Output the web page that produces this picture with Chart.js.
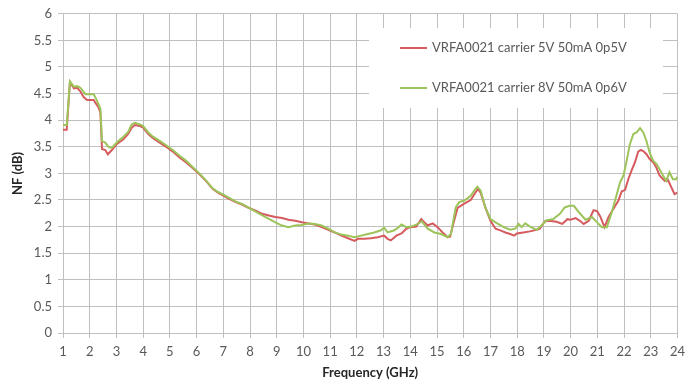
<!DOCTYPE html>
<html>
<head>
<meta charset="utf-8">
<script src="https://cdn.jsdelivr.net/npm/chart.js@4.4.0/dist/chart.umd.min.js"></script>
<style>
  body { margin: 0; background: #ffffff; }
  #chartscreen { display: block; }
</style>
</head>
<body>
<canvas id="chartscreen" width="691" height="385"></canvas>
<script>
// series names
const seriesNames = ["VRFA0021 carrier 5V 50mA 0p5V", "VRFA0021 carrier 8V 50mA 0p6V"];

// red series: frequency (GHz) and noise figure (dB)
const freq5V = [1.0, 1.14, 1.26, 1.41, 1.53, 1.65, 1.78, 1.9, 2.15, 2.21, 2.33, 2.4, 2.46, 2.58, 2.68, 2.83,
  3.01, 3.26, 3.44, 3.57, 3.69, 3.88, 4.0, 4.19, 4.37, 4.62, 4.86, 5.11, 5.36, 5.6, 5.85, 6.1, 6.35, 6.6, 6.8,
  7.0, 7.22, 7.47, 7.72, 7.96, 8.21, 8.46, 8.7, 8.95, 9.2, 9.44, 9.69, 9.94, 10.19, 10.43, 10.68, 10.93,
  11.17, 11.42, 11.67, 11.91, 12.04, 12.28, 12.53, 12.78, 13.02, 13.15, 13.27, 13.48, 13.67, 13.85, 14.0,
  14.22, 14.41, 14.53, 14.65, 14.84, 15.02, 15.21, 15.4, 15.49, 15.64, 15.77, 16.02, 16.26, 16.44, 16.53,
  16.63, 16.81, 17.0, 17.19, 17.37, 17.56, 17.74, 17.89, 17.99, 18.23, 18.48, 18.73, 18.85, 19.04, 19.22,
  19.47, 19.69, 19.88, 20.0, 20.19, 20.37, 20.49, 20.68, 20.86, 20.99, 21.11, 21.27, 21.42, 21.6, 21.79,
  21.91, 22.04, 22.16, 22.28, 22.41, 22.53, 22.63, 22.72, 22.84, 22.96, 23.09, 23.21, 23.33, 23.52, 23.64,
  23.77, 23.89, 24.0];
const nf5V = [3.82, 3.82, 4.72, 4.6, 4.61, 4.54, 4.43, 4.38, 4.38, 4.33, 4.24, 4.14, 3.46, 3.44, 3.36, 3.44,
  3.55, 3.64, 3.74, 3.86, 3.91, 3.89, 3.86, 3.74, 3.66, 3.58, 3.5, 3.41, 3.3, 3.21, 3.1, 2.99, 2.86, 2.71, 2.64,
  2.58, 2.52, 2.46, 2.41, 2.35, 2.3, 2.24, 2.21, 2.18, 2.16, 2.13, 2.11, 2.08, 2.06, 2.04, 1.99, 1.94,
  1.89, 1.83, 1.78, 1.73, 1.77, 1.77, 1.78, 1.8, 1.83, 1.77, 1.74, 1.83, 1.87, 1.96, 1.99,
  2.0, 2.14, 2.08, 2.02, 2.06, 1.99, 1.89, 1.8, 1.81, 2.11, 2.35, 2.43, 2.5, 2.64, 2.71,
  2.64, 2.36, 2.11, 1.96, 1.93, 1.89, 1.86, 1.83, 1.87, 1.89, 1.91, 1.94, 1.96, 2.1, 2.11,
  2.09, 2.05, 2.14, 2.13, 2.16, 2.1, 2.05, 2.11, 2.31, 2.29, 2.19, 1.99, 2.18, 2.33, 2.49,
  2.66, 2.69, 2.89, 3.05, 3.21, 3.41, 3.44, 3.42, 3.36, 3.27, 3.21, 3.11, 2.96, 2.86, 2.88,
  2.74, 2.61, 2.64];

// green series: frequency (GHz) and noise figure (dB)
const freq8V = [1.0, 1.14, 1.26, 1.41, 1.53, 1.65, 1.84, 2.15, 2.28, 2.4, 2.46, 2.58, 2.7, 2.83,
  3.01, 3.26, 3.44, 3.57, 3.69, 3.88, 4.0, 4.19, 4.37, 4.62, 4.86, 5.11, 5.36, 5.6, 5.85, 6.1, 6.35, 6.6, 6.8,
  7.0, 7.22, 7.47, 7.72, 7.96, 8.21, 8.58, 8.95, 9.2, 9.44, 9.69, 9.94, 10.19, 10.43, 10.68, 10.93,
  11.17, 11.42, 11.67, 11.91, 12.16, 12.41, 12.65, 12.9, 13.02, 13.15, 13.4, 13.54, 13.67, 13.85, 14.04,
  14.28, 14.43, 14.65, 14.9, 15.15, 15.4, 15.52, 15.7, 15.83, 16.02, 16.26, 16.44, 16.51, 16.63, 16.81,
  17.0, 17.25, 17.5, 17.74, 17.93, 18.05, 18.17, 18.3, 18.48, 18.73, 18.91, 19.1, 19.35, 19.6, 19.78,
  19.96, 20.12, 20.31, 20.56, 20.8, 20.99, 21.17, 21.36, 21.54, 21.73, 21.85, 21.98, 22.1, 22.22, 22.35,
  22.47, 22.6, 22.72, 22.84, 22.96, 23.09, 23.21, 23.33, 23.46, 23.58, 23.7, 23.83, 23.95, 24.0];
const nf8V = [3.91, 3.91, 4.73, 4.63, 4.64, 4.61, 4.49, 4.49, 4.36, 4.21, 3.61, 3.58, 3.5, 3.48,
  3.58, 3.69, 3.78, 3.92, 3.95, 3.92, 3.89, 3.77, 3.69, 3.61, 3.53, 3.44, 3.33, 3.24, 3.12, 3.0, 2.87, 2.72, 2.65,
  2.6, 2.54, 2.47, 2.42, 2.35, 2.28, 2.18, 2.08, 2.02, 1.99, 2.02, 2.03, 2.06, 2.05, 2.02, 1.96,
  1.89, 1.85, 1.83, 1.8, 1.83, 1.86, 1.89, 1.93, 1.98, 1.89, 1.93, 1.98, 2.04, 1.99, 2.0,
  2.05, 2.1, 1.96, 1.89, 1.86, 1.8, 1.86, 2.36, 2.46, 2.49, 2.58, 2.71, 2.75, 2.68, 2.36,
  2.14, 2.06, 1.99, 1.94, 1.96, 2.05, 1.99, 2.06, 2.0, 1.94, 2.02, 2.12, 2.14, 2.24, 2.36,
  2.39, 2.39, 2.27, 2.13, 2.18, 2.08, 1.99, 1.99, 2.27, 2.61, 2.83, 2.96, 3.24, 3.55, 3.74,
  3.77, 3.85, 3.77, 3.61, 3.39, 3.24, 3.18, 3.08, 2.96, 2.86, 3.02, 2.89, 2.89, 2.94];

const redColor = "#d65b5e";
const greenColor = "#9cc45a";
const gridColor = "#bfbfbf";
const textColor = "#595959";
const fontName = "Lato, 'Open Sans', sans-serif";

// pair up x and y arrays for the linear x scale
function toPoints(xs, ys) {
  var pts = [];
  for (var i = 0; i < xs.length; i++) {
    pts.push({x: xs[i], y: ys[i]});
  }
  return pts;
}

// legend box drawn inside the plot, like the excel chart
const innerLegend = {
  id: "innerLegend",
  afterDraw(chart) {
    const ctx = chart.ctx;
    ctx.save();
    ctx.fillStyle = "#ffffff";
    ctx.fillRect(369, 28, 294, 80);
    const rows = [48, 88];
    ctx.font = "13px " + fontName;
    ctx.textBaseline = "middle";
    chart.data.datasets.forEach(function (ds, i) {
      ctx.strokeStyle = ds.borderColor;
      ctx.lineWidth = 2;
      ctx.beginPath();
      ctx.moveTo(400, rows[i]);
      ctx.lineTo(427, rows[i]);
      ctx.stroke();
      ctx.fillStyle = textColor;
      ctx.fillText(ds.label, 432, rows[i]);
    });
    ctx.restore();
  }
};

const chart_canvas = document.getElementById("chartscreen");

new Chart(chart_canvas, {
  type: "line",
  data: {
    datasets: [{
      label: seriesNames[0],
      data: toPoints(freq5V, nf5V),
      borderColor: redColor,
      borderWidth: 2,
      pointRadius: 0,
      tension: 0,
      order: 1
    }, {
      label: seriesNames[1],
      data: toPoints(freq8V, nf8V),
      borderColor: greenColor,
      borderWidth: 2,
      pointRadius: 0,
      tension: 0,
      order: 0
    }]
  },
  options: {
    responsive: false,
    animation: false,
    layout: {
      padding: {left: 0, right: 8, top: 13, bottom: 0}
    },
    plugins: {
      legend: { display: false },
      tooltip: { enabled: false }
    },
    scales: {
      x: {
        type: "linear",
        min: 1,
        max: 24,
        afterFit: function (scale) { scale.height = 52; },
        ticks: {
          stepSize: 1,
          color: textColor,
          padding: 6,
          font: { family: fontName, size: 13 }
        },
        grid: { color: gridColor, tickLength: 5 },
        border: { color: gridColor },
        title: {
          display: true,
          text: "Frequency (GHz)",
          color: "#262626",
          font: { family: fontName, size: 13, weight: "bold" },
          padding: { top: 0, bottom: 4 }
        }
      },
      y: {
        min: 0,
        max: 6,
        afterFit: function (scale) { scale.width = 63; },
        ticks: {
          stepSize: 0.5,
          color: textColor,
          padding: 6,
          font: { family: fontName, size: 13 },
          // excel style labels: 6, 5.5, 5 ...
          callback: function (value) { return String(value); }
        },
        grid: { color: gridColor, tickLength: 5 },
        border: { color: gridColor },
        title: {
          display: true,
          text: "NF (dB)",
          color: "#262626",
          font: { family: fontName, size: 13, weight: "bold" },
          padding: { top: 10, bottom: 0 }
        }
      }
    }
  },
  plugins: [innerLegend]
});
</script>
</body>
</html>
